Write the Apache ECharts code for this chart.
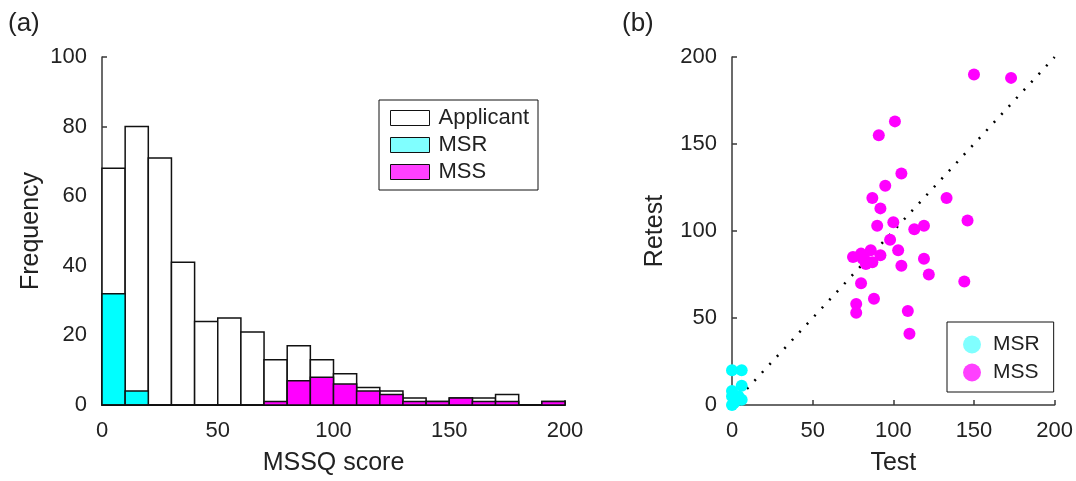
<!DOCTYPE html>
<html>
<head>
<meta charset="utf-8">
<script src="https://cdn.jsdelivr.net/npm/echarts@6/dist/echarts.min.js"></script>
<style>
  html, body { margin: 0; padding: 0; background: #fff; }
  #chart { width: 1076px; height: 481px; }
</style>
</head>
<body>
<div id="chart"></div>
<script>
// histogram bins (MSSQ score, width 10)
var binStarts = [0, 10, 20, 30, 40, 50, 60, 70, 80, 90, 100, 110, 120, 130, 140, 150, 160, 170, 180, 190];
var binWidth = 10;
var applicantCounts = [68, 80, 71, 41, 24, 25, 21, 13, 17, 13, 9, 5, 4, 2, 1, 2, 2, 3, 0, 1];
var msrCounts = [32, 4, 0, 0, 0, 0, 0, 0, 0, 0, 0, 0, 0, 0, 0, 0, 0, 0, 0, 0];
var mssCounts = [0, 0, 0, 0, 0, 0, 0, 1, 7, 8, 6, 4, 3, 1, 1, 2, 1, 1, 0, 1];

// test-retest scores [test, retest]
var msrPoints = [[0, 20], [6, 20], [6, 11], [0, 8], [0, 5], [4, 5], [6, 3], [2, 2], [0, 0], [1, 1]];
var mssPoints = [
  [150, 190], [173, 188], [101, 163], [91, 155], [105, 133], [95, 126], [87, 119], [133, 119],
  [92, 113], [90, 103], [100, 105], [113, 101], [119, 103], [146, 106], [98, 95], [103, 89],
  [86, 89], [80, 87], [75, 85], [82, 84], [81, 84], [92, 86], [83, 81], [87, 82], [105, 80],
  [119, 84], [122, 75], [144, 71], [80, 70], [88, 61], [77, 58], [77, 53], [109, 54], [110, 41]
];
var identityLine = [[0, 0], [200, 200]];

var histTicks = [0, 50, 100, 150, 200];
var freqTicks = [0, 20, 40, 60, 80, 100];

var FONT = 'Liberation Sans';
var AXIS_COLOR = '#3a3a3a';
var TEXT_COLOR = '#222';

function binData(counts) {
  var out = [];
  for (var i = 0; i < counts.length; i++) {
    out.push([binStarts[i], binStarts[i] + binWidth, counts[i]]);
  }
  return out;
}

function histRender(fill) {
  return function (params, api) {
    var p0 = api.coord([api.value(0), 0]);
    var p1 = api.coord([api.value(1), api.value(2)]);
    return {
      type: 'rect',
      shape: { x: p0[0], y: p1[1], width: p1[0] - p0[0], height: p0[1] - p1[1] },
      style: { fill: fill, stroke: '#111', lineWidth: 1.5 }
    };
  };
}

function axisCommon(min, max, interval) {
  return {
    type: 'value',
    min: min,
    max: max,
    interval: interval,
    splitLine: { show: false },
    axisLine: { show: true, lineStyle: { color: AXIS_COLOR, width: 1.5 } },
    axisTick: { show: true, inside: true, length: 5, lineStyle: { color: AXIS_COLOR, width: 1.5 } },
    axisLabel: { fontFamily: FONT, fontSize: 22, color: TEXT_COLOR, margin: 15 },
    nameLocation: 'middle',
    nameTextStyle: { fontFamily: FONT, fontSize: 25, color: TEXT_COLOR }
  };
}

var myChart = echarts.init(document.getElementById('chart'));

var option = {
  animation: false,
  title: [
    { text: '(a)', left: 3, top: 6, textStyle: { fontFamily: FONT, fontSize: 26, fontWeight: 'normal', color: TEXT_COLOR } },
    { text: '(b)', left: 617, top: 6, textStyle: { fontFamily: FONT, fontSize: 26, fontWeight: 'normal', color: TEXT_COLOR } }
  ],
  grid: [
    { left: 102, right: 511, top: 57, bottom: 76 },
    { left: 732, right: 21, top: 57, bottom: 76 }
  ],
  xAxis: [
    Object.assign(axisCommon(histTicks[0], histTicks[histTicks.length - 1], 50), { gridIndex: 0, name: 'MSSQ score', nameGap: 46 }),
    Object.assign(axisCommon(0, 200, 50), { gridIndex: 1, name: 'Test', nameGap: 46 })
  ],
  yAxis: [
    Object.assign(axisCommon(freqTicks[0], freqTicks[freqTicks.length - 1], 20), { gridIndex: 0, name: 'Frequency', nameGap: 58 }),
    Object.assign(axisCommon(0, 200, 50), { gridIndex: 1, name: 'Retest', nameGap: 64 })
  ],
  legend: [
    {
      orient: 'vertical',
      left: 379,
      top: 100,
      padding: [7, 9, 7, 11],
      itemGap: 5,
      itemWidth: 39,
      itemHeight: 15,
      borderColor: '#111',
      borderWidth: 1,
      textStyle: { fontFamily: FONT, fontSize: 22, color: TEXT_COLOR, padding: [0, 0, 0, 4] },
      data: [
        { name: 'Applicant', icon: 'rect', itemStyle: { color: '#fff', borderColor: '#111', borderWidth: 1 } },
        { name: 'MSR', icon: 'rect', itemStyle: { color: '#80ffff', borderColor: '#111', borderWidth: 1 } },
        { name: 'MSS', icon: 'rect', itemStyle: { color: '#ff40ff', borderColor: '#111', borderWidth: 1 } }
      ]
    },
    {
      orient: 'vertical',
      left: 947,
      top: 322,
      padding: [12, 14, 9, 16],
      itemGap: 7,
      itemWidth: 18,
      itemHeight: 18,
      borderColor: '#111',
      borderWidth: 1,
      formatter: function (name) { return name.split(' ')[0]; },
      textStyle: { fontFamily: FONT, fontSize: 21, color: TEXT_COLOR, padding: [0, 0, 0, 7] },
      data: [
        { name: 'MSR test', icon: 'circle', itemStyle: { color: '#80ffff' } },
        { name: 'MSS test', icon: 'circle', itemStyle: { color: '#ff40ff' } }
      ]
    }
  ],
  series: [
    {
      name: 'Applicant', type: 'custom', xAxisIndex: 0, yAxisIndex: 0,
      renderItem: histRender('#fff'), data: binData(applicantCounts),
      encode: { x: [0, 1], y: 2 }, z: 2
    },
    {
      name: 'MSR', type: 'custom', xAxisIndex: 0, yAxisIndex: 0,
      renderItem: histRender('#00ffff'), data: binData(msrCounts),
      encode: { x: [0, 1], y: 2 }, z: 3
    },
    {
      name: 'MSS', type: 'custom', xAxisIndex: 0, yAxisIndex: 0,
      renderItem: histRender('#ff00ff'), data: binData(mssCounts),
      encode: { x: [0, 1], y: 2 }, z: 3
    },
    {
      name: 'identity', type: 'line', xAxisIndex: 1, yAxisIndex: 1,
      data: identityLine, symbol: 'none', silent: true, z: 1,
      lineStyle: { color: '#000', width: 2.5, type: [2, 9] }
    },
    {
      name: 'MSR test', type: 'scatter', xAxisIndex: 1, yAxisIndex: 1,
      data: msrPoints, symbolSize: 12, itemStyle: { color: '#00ffff', opacity: 1 }, z: 3
    },
    {
      name: 'MSS test', type: 'scatter', xAxisIndex: 1, yAxisIndex: 1,
      data: mssPoints, symbolSize: 12, itemStyle: { color: '#ff00ff', opacity: 1 }, z: 3
    }
  ]
};

myChart.setOption(option);
</script>
</body>
</html>
